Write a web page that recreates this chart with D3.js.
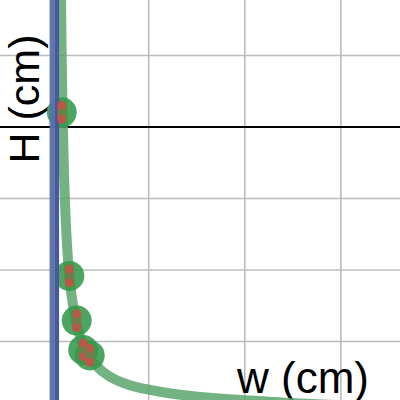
<!DOCTYPE html>
<html><head><meta charset="utf-8">
<script src="https://cdn.jsdelivr.net/npm/d3@7"></script>
<style>html,body{margin:0;padding:0;background:#fff;}svg{display:block;}</style>
</head><body>
<svg id="chart" width="400" height="400"></svg>
<script>
// grid ticks
const wTicks = [0, 1, 2, 3, 4];
const hTicks = [1, 2, 3, 4, 5];
const refH = 4; // black reference line

// green curve (w, H)
const curveW = [0.086, 0.088, 0.095, 0.104, 0.115, 0.128, 0.147, 0.175, 0.204, 0.240, 0.298, 0.369, 0.445, 0.597, 0.805, 1.118, 1.534, 2.054, 2.574, 3.095, 3.823];
const curveH = [6.056, 5.776, 4.937, 4.196, 3.538, 2.979, 2.420, 1.916, 1.580, 1.301, 1.021, 0.811, 0.671, 0.506, 0.388, 0.297, 0.224, 0.175, 0.133, 0.105, 0.084];

// blue lines
const blueAW = [0.018, 0.018];
const blueAH = [-1, 7];
const blueBW = [0.046, 0.046];
const blueBH = [-1, 7];

// measured points
const ptW = [0.095, 0.174, 0.251, 0.319, 0.386];
const ptH = [4.206, 1.917, 1.292, 0.882, 0.805];
const ptErr = [0.16, 0.16, 0.16, 0.16, 0.16];

const labelX = "w (cm)";
const labelY = "H (cm)";

const svg = d3.select("#chart");
const x = d3.scaleLinear().domain([0, 3]).range([52.6, 340.9]);
const y = d3.scaleLinear().domain([0, 5]).range([413, 55.5]);

// grid
svg.append("g").selectAll("line").data(wTicks).join("line")
  .attr("x1", d => x(d)).attr("x2", d => x(d)).attr("y1", 0).attr("y2", 400)
  .attr("stroke", "#bcbcbc").attr("stroke-width", 1.6);
svg.append("g").selectAll("line").data(hTicks).join("line")
  .attr("y1", d => y(d)).attr("y2", d => y(d)).attr("x1", 0).attr("x2", 400)
  .attr("stroke", "#bcbcbc").attr("stroke-width", 1.6);

// reference line
svg.append("line").attr("x1", 0).attr("x2", 400).attr("y1", y(refH)).attr("y2", y(refH))
  .attr("stroke", "#000").attr("stroke-width", 2);

// labels
svg.append("text").attr("transform", `translate(39,99) rotate(-90)`)
  .attr("text-anchor", "middle").attr("font-family", "Liberation Sans, Arial, sans-serif")
  .attr("font-size", 43).attr("fill", "#000").text(labelY);
svg.append("text").attr("x", 237).attr("y", 392.5)
  .attr("font-family", "Liberation Sans, Arial, sans-serif")
  .attr("font-size", 44).attr("fill", "#000").text(labelX);

// green curve
const curve = curveW.map((w, i) => [w, curveH[i]]);
svg.append("path").attr("d", d3.line().x(d => x(d[0])).y(d => y(d[1])).curve(d3.curveCatmullRom)(curve))
  .attr("fill", "none").attr("stroke", "#5ba56c").attr("stroke-opacity", 0.85)
  .attr("stroke-width", 10);

// circles
const pts = ptW.map((w, i) => ({w, H: ptH[i], e: ptErr[i]}));
svg.append("g").selectAll("circle").data(pts).join("circle")
  .attr("cx", d => x(d.w)).attr("cy", d => y(d.H)).attr("r", 15)
  .attr("fill", "#33984a").attr("fill-opacity", 0.88);

// blue lines
const lin = d3.line().x(d => x(d[0])).y(d => y(d[1]));
svg.append("path").attr("d", lin(blueAW.map((w, i) => [w, blueAH[i]])))
  .attr("fill", "none").attr("stroke", "#5a6fae").attr("stroke-width", 9.5).attr("stroke-opacity", 0.95);
svg.append("path").attr("d", lin(blueBW.map((w, i) => [w, blueBH[i]])))
  .attr("fill", "none").attr("stroke", "#44558f").attr("stroke-width", 4).attr("stroke-opacity", 0.8);

// red bars
svg.append("g").selectAll("rect").data(pts).join("rect")
  .attr("x", d => x(d.w) - 4.4).attr("width", 8.8)
  .attr("y", d => y(d.H + d.e)).attr("height", d => y(d.H - d.e) - y(d.H + d.e))
  .attr("rx", 4.4).attr("fill", "#cc4f45").attr("fill-opacity", 0.88);
svg.append("g").selectAll("ellipse").data(pts).join("ellipse")
  .attr("cx", d => x(d.w)).attr("cy", d => y(d.H)).attr("rx", 4.4).attr("ry", 3.6)
  .attr("fill", "#4f8f50").attr("fill-opacity", 0.7);
</script>
</body></html>
